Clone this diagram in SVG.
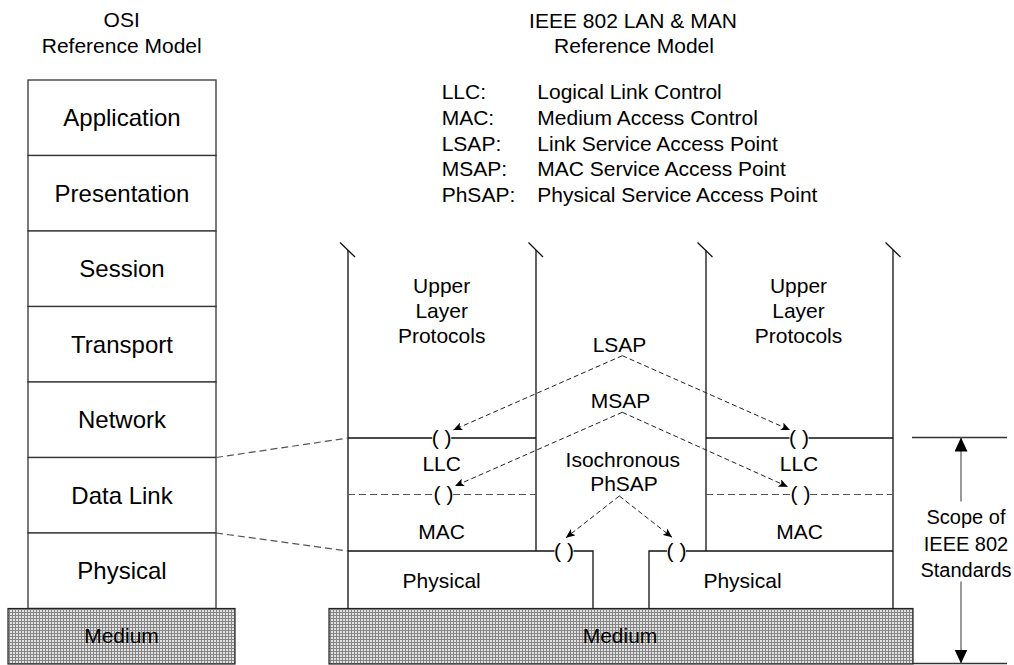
<svg xmlns="http://www.w3.org/2000/svg" width="1014" height="665" viewBox="0 0 1014 665">
<style>
text{font-family:"Liberation Sans",Arial,Helvetica,sans-serif;fill:#000}
.t21{font-size:21px}
.t24{font-size:24px}
.t20{font-size:20px}
.c{text-anchor:middle}
.box{fill:#fff;stroke:#333;stroke-width:1.3}
.ln{fill:none;stroke:#111;stroke-width:1.3}
.dl{fill:none;stroke:#555;stroke-width:1.2;stroke-dasharray:7 4}
.ar{fill:none;stroke:#222;stroke-width:1;stroke-dasharray:5 3}
.med{fill:url(#grid);stroke:#222;stroke-width:1.2}
.sc{fill:none;stroke:#777;stroke-width:1.5}
</style>
<defs>
<pattern id="grid" width="3" height="3" patternUnits="userSpaceOnUse">
<rect width="3" height="3" fill="#e2e2e2"/>
<rect width="1" height="3" fill="#858585"/>
<rect width="3" height="1" fill="#858585"/>
</pattern>
<marker id="ah" markerWidth="9" markerHeight="8" refX="9" refY="4" orient="auto" markerUnits="userSpaceOnUse">
<path d="M0,0 L9,4 L0,8 L2,4 Z" fill="#000"/>
</marker>
<marker id="big" markerWidth="14" markerHeight="14" refX="14" refY="6.5" orient="auto" markerUnits="userSpaceOnUse">
<path d="M0,0 L14,6.5 L0,13 Z" fill="#000"/>
</marker>
</defs>

<g id="titles">
<text class="t21 c" x="121.7" y="27">OSI</text>
<text class="t21 c" x="121.7" y="52.5">Reference Model</text>
<text class="t21 c" x="633" y="27.7">IEEE 802 LAN &amp; MAN</text>
<text class="t21 c" x="634" y="53">Reference Model</text>
</g>

<g id="legend">
<text class="t21" x="441.7" y="99.3">LLC:</text>
<text class="t21" x="537.3" y="99.3">Logical Link Control</text>
<text class="t21" x="441.7" y="124.9">MAC:</text>
<text class="t21" x="537.3" y="124.9">Medium Access Control</text>
<text class="t21" x="441.7" y="150.5">LSAP:</text>
<text class="t21" x="537.3" y="150.5">Link Service Access Point</text>
<text class="t21" x="441.7" y="176.1">MSAP:</text>
<text class="t21" x="537.3" y="176.1">MAC Service Access Point</text>
<text class="t21" x="441.7" y="201.7">PhSAP:</text>
<text class="t21" x="537.3" y="201.7">Physical Service Access Point</text>
</g>

<g id="osi-stack">
<g id="osi-application"><rect class="box" x="28" y="80" width="188" height="75.5"/><text class="t24 c" x="122" y="126">Application</text></g>
<g id="osi-presentation"><rect class="box" x="28" y="155.5" width="188" height="75.5"/><text class="t24 c" x="122" y="201.5">Presentation</text></g>
<g id="osi-session"><rect class="box" x="28" y="231" width="188" height="75.5"/><text class="t24 c" x="122" y="277">Session</text></g>
<g id="osi-transport"><rect class="box" x="28" y="306.5" width="188" height="75.5"/><text class="t24 c" x="122" y="352.5">Transport</text></g>
<g id="osi-network"><rect class="box" x="28" y="382" width="188" height="75.5"/><text class="t24 c" x="122" y="428">Network</text></g>
<g id="osi-datalink"><rect class="box" x="28" y="457.5" width="188" height="75.5"/><text class="t24 c" x="122" y="503.5">Data Link</text></g>
<g id="osi-physical"><rect class="box" x="28" y="533" width="188" height="75.5"/><text class="t24 c" x="122" y="579">Physical</text></g>
</g>

<g id="medium-left"><rect class="med" x="8" y="608.5" width="227" height="55.5"/><text class="t21 c" x="121.5" y="643">Medium</text></g>
<g id="medium-right"><rect class="med" x="329" y="608.5" width="584" height="55.5"/><text class="t21 c" x="620" y="643">Medium</text></g>

<g id="ieee-left-stack">
<path class="ln" d="M340,242.5 L355,257 M528.5,242.5 L543,257"/>
<path class="ln" d="M348,250 V608.5 M536,250 V551"/>
<path class="ln" d="M348,438 H432.2 M451.2,438 H536"/>
<path class="dl" d="M348,494.5 H434 M453,494.5 H536"/>
<path class="ln" d="M348,551 H554.5 M573.5,551 H593 V608.5"/>
<text class="t21 c" x="441.7" y="293.3">Upper</text>
<text class="t21 c" x="441.7" y="318.3">Layer</text>
<text class="t21 c" x="441.7" y="343.3">Protocols</text>
<text class="t21 c" x="441.7" y="444.5">( )</text>
<text class="t21 c" x="441.7" y="470.7">LLC</text>
<text class="t21 c" x="443.5" y="501">( )</text>
<text class="t21 c" x="441.7" y="539">MAC</text>
<text class="t21 c" x="564" y="557.5">( )</text>
<text class="t21 c" x="441.7" y="588.3">Physical</text>
</g>

<g id="ieee-right-stack">
<path class="ln" d="M697.5,242.5 L712.5,257 M885.5,242.5 L900.5,257"/>
<path class="ln" d="M706,250 V551 M893,250 V608.5"/>
<path class="ln" d="M706,438 H789.5 M808.5,438 H893"/>
<path class="dl" d="M706,494.5 H791 M810,494.5 H893"/>
<path class="ln" d="M649,608.5 V551 H667 M686,551 H893"/>
<text class="t21 c" x="798.5" y="293.3">Upper</text>
<text class="t21 c" x="798.5" y="318.3">Layer</text>
<text class="t21 c" x="798.5" y="343.3">Protocols</text>
<text class="t21 c" x="799" y="444.5">( )</text>
<text class="t21 c" x="799" y="470.7">LLC</text>
<text class="t21 c" x="800.5" y="501">( )</text>
<text class="t21 c" x="799.5" y="539">MAC</text>
<text class="t21 c" x="676.5" y="557.5">( )</text>
<text class="t21 c" x="742.5" y="588.3">Physical</text>
</g>

<g id="sap-labels">
<text class="t21 c" x="619.5" y="351.7">LSAP</text>
<text class="t21 c" x="620.5" y="408.3">MSAP</text>
<text class="t21 c" x="622.8" y="466.5">Isochronous</text>
<text class="t21 c" x="624" y="490.7">PhSAP</text>
</g>

<g id="scope">
<path class="ln" d="M912,437.5 H1007 M913,663.5 H1007" style="stroke:#333"/>
<path class="sc" d="M961,501.5 V437.5" marker-end="url(#big)"/>
<path class="sc" d="M961,581.5 V663.5" marker-end="url(#big)"/>
<text class="t20 c" x="966" y="524">Scope of</text>
<text class="t20 c" x="966" y="551">IEEE 802</text>
<text class="t20 c" x="966" y="576.7">Standards</text>
</g>

<g id="connectors">
<path class="dl" d="M216,457.5 L348,438"/>
<path class="dl" d="M216,533 L348,551"/>
<path class="ar" d="M622.3,355.7 L453.3,430" marker-end="url(#ah)"/>
<path class="ar" d="M622.3,355.7 L790,430" marker-end="url(#ah)"/>
<path class="ar" d="M622.3,412.3 L455,486" marker-end="url(#ah)"/>
<path class="ar" d="M622.3,412.3 L787.7,486.7" marker-end="url(#ah)"/>
<path class="ar" d="M619.3,496 L566,537.7" marker-end="url(#ah)"/>
<path class="ar" d="M619.3,496 L672,537.3" marker-end="url(#ah)"/>
</g>
</svg>
